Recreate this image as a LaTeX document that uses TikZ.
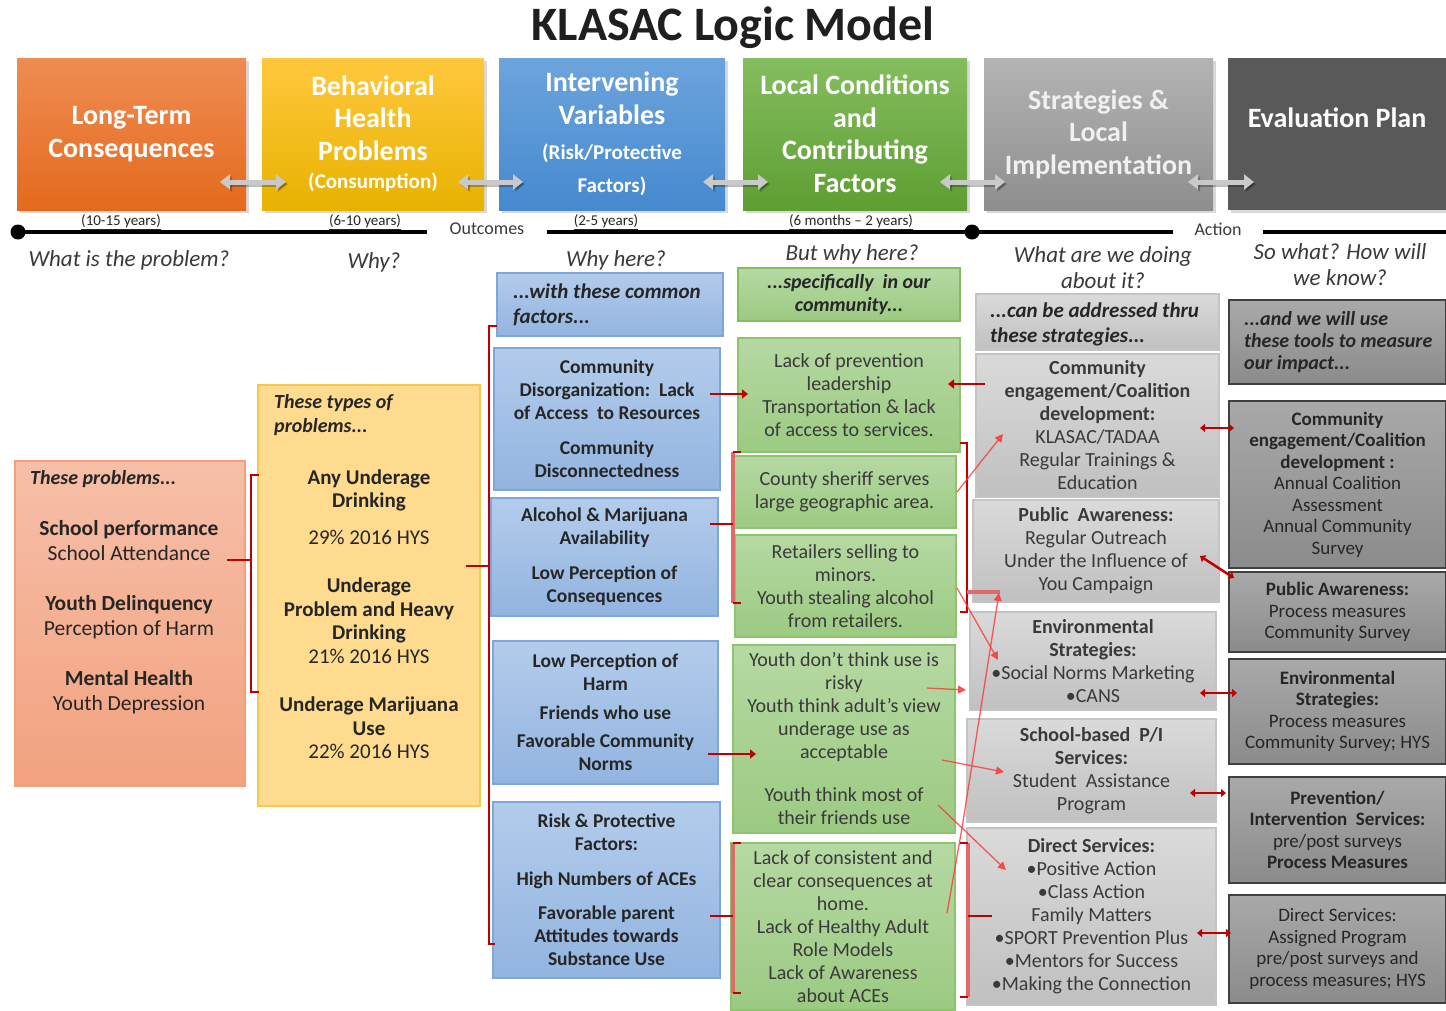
\documentclass[tikz,border=0pt]{standalone}
\usepackage{fontspec}
\setmainfont{Carlito}
\usetikzlibrary{arrows.meta,shadows,calc}
\definecolor{orA}{HTML}{F08C52}\definecolor{orB}{HTML}{E36A1D}
\definecolor{ylA}{HTML}{FFC83D}\definecolor{ylB}{HTML}{E8B200}
\definecolor{blA}{HTML}{6DA4DD}\definecolor{blB}{HTML}{4589CF}
\definecolor{grA}{HTML}{84BD5E}\definecolor{grB}{HTML}{5E9E33}
\definecolor{gyA}{HTML}{B4B4B4}\definecolor{gyB}{HTML}{8E8E8E}
\definecolor{dkA}{HTML}{595959}
\definecolor{slA}{HTML}{F6BFA8}\definecolor{slB}{HTML}{F2A27F}\definecolor{slD}{HTML}{F3A07A}
\definecolor{ycF}{HTML}{FEDB8F}\definecolor{ycD}{HTML}{FAC74A}
\definecolor{bcA}{HTML}{B3CCEB}\definecolor{bcB}{HTML}{92B4E0}\definecolor{bcD}{HTML}{7DA7DA}
\definecolor{gcA}{HTML}{B6D9A3}\definecolor{gcB}{HTML}{9BCA82}\definecolor{gcD}{HTML}{8FC46E}
\definecolor{xcA}{HTML}{DADADA}\definecolor{xcB}{HTML}{C0C0C0}\definecolor{xcD}{HTML}{C4C4C4}
\definecolor{dcA}{HTML}{A9A9A9}\definecolor{dcB}{HTML}{8B8B8B}\definecolor{dcD}{HTML}{404040}
\definecolor{txt}{HTML}{262626}\definecolor{txtg}{HTML}{3A3A3A}
\definecolor{rdk}{HTML}{C00000}\definecolor{rlt}{HTML}{E06A6A}\definecolor{rth}{HTML}{FF3535}
\definecolor{arw}{HTML}{C9C9C9}
\newcommand\mkbox[7]{\node[#2,minimum width={#5-#3},minimum height={#6-#4}] (#1) at ({(#3+#5)/2},{(#4+#6)/2}) {#7};}
\newcommand\hsmall{\fontsize{21}{24}\selectfont}
\tikzset{
 hdr/.style={draw=none,inner sep=0pt,outer sep=0pt,align=center,text=white,
   font=\bfseries\fontsize{28}{32.5}\selectfont,
   drop shadow={shadow xshift=3pt,shadow yshift=-3pt,opacity=0.3}},
 cbox/.style={inner sep=0pt,outer sep=0pt,align=center,line width=1.5pt,text=txt},
 bluebox/.style={cbox,draw=bcD,top color=bcA,bottom color=bcB,font=\bfseries\fontsize{19.5}{23}\selectfont},
 greenbox/.style={cbox,draw=gcD,top color=gcA,bottom color=gcB,text=txtg,font=\fontsize{20}{23}\selectfont},
 graybox/.style={cbox,draw=xcD,top color=xcA,bottom color=xcB,text=txtg,font=\fontsize{20}{23}\selectfont},
 darkbox/.style={cbox,draw=dcD,line width=2.5pt,top color=dcA,bottom color=dcB,text=txt,font=\fontsize{19}{21.5}\selectfont},
 hint/.style={font=\bfseries\itshape\fontsize{21}{25}\selectfont,text=txt,align=left,inner sep=0pt},
 question/.style={font=\itshape\fontsize{23}{26}\selectfont,text=txtg,align=center,inner sep=0pt},
 yrs/.style={font=\fontsize{15}{17}\selectfont,text=txt,inner sep=0pt,anchor=south},
 hdrarrow/.style={draw=arw,line width=5pt,{Triangle[width=15pt,length=10pt]}-{Triangle[width=15pt,length=10pt]}},
 hdrshadow/.style={draw=black,opacity=0.25,line width=5pt,{Triangle[width=15pt,length=10pt]}-{Triangle[width=15pt,length=10pt]}},
 rbr/.style={draw=rdk,line width=2pt},
 rbl/.style={draw=rlt,line width=3.5pt},
 rlink/.style={draw=rdk,line width=2.5pt,{Triangle[length=5pt,width=8pt]}-{Triangle[length=5pt,width=8pt]}},
 rone/.style={draw=rdk,line width=2.5pt,-{Triangle[length=6pt,width=9pt]}},
 rthin/.style={draw=rth,opacity=0.8,line width=1.3pt,-{Triangle[length=8pt,width=8pt]}},
}
\begin{document}
\begin{tikzpicture}[x=1pt,y=-1pt]
\useasboundingbox (0,0) rectangle (1446,1010);
\fill[white] (0,0) rectangle (1446,1010);
% title
\node[font=\bfseries\fontsize{48}{50}\selectfont,text=black!88,inner sep=0pt] (title) at (733,28) {KLASAC Logic Model};
% header boxes
\mkbox{h1}{hdr,top color=orA,bottom color=orB}{17}{58}{246}{210}{Long-Term\\Consequences}
\mkbox{h2}{hdr,top color=ylA,bottom color=ylB}{262}{58}{484}{210}{Behavioral\\Health\\Problems\\[-4pt]{\hsmall (Consumption)}}
\mkbox{h3}{hdr,top color=blA,bottom color=blB}{499}{58}{725}{210}{Intervening\\Variables\\[3pt]{\hsmall (Risk/Protective}\\{\hsmall Factors)}}
\mkbox{h4}{hdr,top color=grA,bottom color=grB}{743}{58}{967}{210}{Local Conditions\\and\\Contributing\\Factors}
\mkbox{h5}{hdr,top color=gyA,bottom color=gyB,text=white!94!black}{984}{58}{1213}{210}{Strategies \&\\Local\\Implementation}
\mkbox{h6}{hdr,fill=dkA}{1228}{58}{1446}{210}{Evaluation Plan\\\phantom{X}}
% header arrows
\coordinate (a1s) at (220,182);\coordinate (a1e) at (286,182);
\coordinate (a2s) at (458,182);\coordinate (a2e) at (523,182);
\coordinate (a3s) at (703,182);\coordinate (a3e) at (768,182);
\coordinate (a4s) at (940,182);\coordinate (a4e) at (1005,182);
\coordinate (a5s) at (1188,182);\coordinate (a5e) at (1254,182);
\foreach \s/\e in {a1s/a1e,a2s/a2e,a3s/a3e,a4s/a4e,a5s/a5e}{
  \draw[hdrshadow] ([shift={(2,2)}]\s) -- ([shift={(2,2)}]\e);
  \draw[hdrarrow] (\s) -- (\e);}
% timeline
\coordinate (t0) at (18,232);\coordinate (t1) at (427,232);
\coordinate (t2) at (547,232);\coordinate (t3) at (972,232);
\coordinate (t4) at (1173,232);\coordinate (t5) at (1263,232);\coordinate (t6) at (1446,232);
\draw[line width=3.5pt] (t0) -- (t1);
\draw[line width=3.5pt] (t2) -- (t4);
\draw[line width=3.5pt] (t5) -- (t6);
\fill (t0) circle (7.5pt);
\fill (t3) circle (7.5pt);
\node[font=\fontsize{18}{20}\selectfont,text=txtg,inner sep=0pt] (outc) at (487,229) {Outcomes};
\node[font=\fontsize{18}{20}\selectfont,text=txtg,inner sep=0pt] (act) at (1218,229) {Action};
\node[yrs] (y1) at (121,230) {\underline{(10-15 years)}};
\node[yrs] (y2) at (365,230) {\underline{(6-10 years)}};
\node[yrs] (y3) at (606,230) {\underline{(2-5 years)}};
\node[yrs] (y4) at (851,230) {\underline{(6 months -- 2 years)}};
% questions
\node[question] (q1) at (129,260) {What is the problem?};
\node[question] (q2) at (374,262) {Why?};
\node[question] (q3) at (616,260) {Why here?};
\node[question] (q4) at (852,254) {But why here?};
\node[question] (q5) at (1103,268) {What are we doing\\about it?};
\node[question] (q6) at (1340,265) {So what? How will\\we know?};
% left columns
\mkbox{sal}{cbox,draw=slD,top color=slA,bottom color=slB}{15}{461}{245}{786}{}
\node[hint,anchor=west,font=\bfseries\itshape\fontsize{20}{25}\selectfont] (salh) at (30,479) {These problems...};
\node[font=\fontsize{21.5}{25}\selectfont,text=txt,align=center,inner sep=0pt] (salt) at (129,617)
 {\textbf{School performance}\\School Attendance\\[25pt]\textbf{Youth Delinquency}\\Perception of Harm\\[25pt]\textbf{Mental Health}\\Youth Depression};
\mkbox{yel}{cbox,draw=ycD,line width=2.5pt,fill=ycF}{258}{385}{480}{806}{}
\node[hint,anchor=west,font=\bfseries\itshape\fontsize{20}{24}\selectfont] (yelh) at (274,415) {These types of\\problems...};
\node[font=\fontsize{21}{23.5}\selectfont,text=txt,align=center,inner sep=0pt] (yelt) at (369,614)
 {\textbf{Any Underage}\\\textbf{Drinking}\\[13pt]29\% 2016 HYS\\[25pt]\textbf{Underage}\\\textbf{Problem and Heavy}\\\textbf{Drinking}\\21\% 2016 HYS\\[25pt]\textbf{Underage Marijuana}\\\textbf{Use}\\22\% 2016 HYS};
% blue column
\mkbox{bh}{bluebox}{497}{273}{723}{336}{}
\node[hint,anchor=west] (bht) at (513,305) {...with these common\\factors...};
\mkbox{b1}{bluebox}{494}{348}{720}{490}{Community\\Disorganization:\ \ Lack\\of Access\ \ to Resources\\[12pt]Community\\Disconnectedness}
\mkbox{b2}{bluebox}{491}{498}{718}{616}{Alcohol \& Marijuana\\Availability\\[12pt]Low Perception of\\Consequences}
\mkbox{b3}{bluebox}{493}{641}{718}{784}{Low Perception of\\Harm\\[6pt]Friends who use\\[5pt]Favorable Community\\Norms}
\mkbox{b4}{bluebox}{493}{802}{720}{978}{Risk \& Protective\\Factors:\\[12pt]High Numbers of ACEs\\[11pt]Favorable parent\\Attitudes towards\\Substance Use}
% green column
\mkbox{gh}{greenbox,draw=grA,font=\bfseries\itshape\fontsize{20}{23}\selectfont,text=txt}{738}{268}{960}{321}{...specifically\ \ in our\\community...}
\mkbox{g1}{greenbox}{738}{338}{960}{452}{Lack of prevention\\leadership\\Transportation \& lack\\of access to services.}
\mkbox{g2}{greenbox}{733}{456}{956}{528}{County sheriff serves\\large geographic area.}
\mkbox{g3}{greenbox}{735}{535}{956}{637}{Retailers selling to\\minors.\\Youth stealing alcohol\\from retailers.}
\mkbox{g4}{greenbox}{733}{645}{955}{833}{Youth don't think use is\\risky\\Youth think adult's view\\underage use as\\acceptable\\[20pt]Youth think most of\\their friends use}
\mkbox{g5}{greenbox}{731}{843}{955}{1010}{Lack of consistent and\\clear consequences at\\home.\\Lack of Healthy Adult\\Role Models\\Lack of Awareness\\about ACEs}
% gray column
\mkbox{xh}{graybox}{976}{294}{1219}{350}{}
\node[hint,anchor=west] (xht) at (990,324) {...can be addressed thru\\these strategies...};
\mkbox{x1}{graybox}{976}{354}{1219}{497}{\textbf{Community}\\\textbf{engagement/Coalition}\\\textbf{development:}\\KLASAC/TADAA\\Regular Trainings \&\\Education}
\mkbox{x2}{graybox}{973}{500}{1219}{602}{\textbf{Public\ \ Awareness:}\\Regular Outreach\\Under the Influence of\\You Campaign}
\mkbox{x3}{graybox}{970}{612}{1216}{710}{\textbf{Environmental}\\\textbf{Strategies:}\\•Social Norms Marketing\\•CANS}
\mkbox{x4}{graybox}{967}{719}{1216}{822}{\textbf{School-based\ \ P/I}\\\textbf{Services:}\\Student\ \ Assistance\\Program}
\mkbox{x5}{graybox}{967}{828}{1216}{1005}{\textbf{Direct Services:}\\•Positive Action\\•Class Action\\Family Matters\\•SPORT Prevention Plus\\•Mentors for Success\\•Making the Connection}
% dark column
\mkbox{dh}{darkbox}{1229}{300}{1446}{384}{}
\node[hint,anchor=west,font=\bfseries\itshape\fontsize{20}{22}\selectfont] (dht) at (1244,342) {...and we will use\\these tools to measure\\our impact...};
\mkbox{d1}{darkbox}{1229}{401}{1446}{568}{\textbf{Community}\\\textbf{engagement/Coalition}\\\textbf{development :}\\Annual Coalition\\Assessment\\Annual Community\\Survey}
\mkbox{d2}{darkbox}{1229}{572}{1446}{652}{\textbf{Public Awareness:}\\Process measures\\Community Survey}
\mkbox{d3}{darkbox}{1229}{659}{1446}{764}{\textbf{Environmental}\\\textbf{Strategies:}\\Process measures\\Community Survey; HYS}
\mkbox{d4}{darkbox}{1229}{777}{1446}{883}{\textbf{Prevention/}\\\textbf{Intervention\ \ Services:}\\pre/post surveys\\\textbf{Process Measures}}
\mkbox{d5}{darkbox}{1229}{895}{1446}{1003}{Direct Services:\\Assigned Program\\pre/post surveys and\\process measures; HYS}
% ---- red connectors ----
% bracket salmon -> yellow
\coordinate (L1t) at (251,475);\coordinate (L1b) at (251,692);\coordinate (L1m) at (251,560);
\draw[rbr] ([xshift=-18]sal.east |- L1m) -- (L1m);
\draw[rbr] ([xshift=8]L1t) -- (L1t) -- (L1b) -- ([xshift=8]L1b);
% bracket yellow -> blue
\coordinate (L2t) at (489,326);\coordinate (L2b) at (489,944);\coordinate (L2m) at (489,566);
\draw[rbr] ([xshift=-14]yel.east |- L2m) -- (L2m);
\draw[rbr] ([xshift=8]L2t) -- (L2t) -- (L2b) -- ([xshift=6]L2b);
% bracket blue2 -> green2/3
\coordinate (L3t) at (733,452);\coordinate (L3b) at (733,603);\coordinate (L3m) at (733,524);
\draw[rbl] (L3t) -- (L3b);
\draw[rbr] ([xshift=-8]b2.east |- L3m) -- (L3m);
\draw[rbr] (L3t) -- ([xshift=8]L3t);
\draw[rbr] (L3b) -- ([xshift=8]L3b);
% bracket blue4 -> green5
\coordinate (L4t) at (733,843);\coordinate (L4b) at (733,993);\coordinate (L4m) at (733,916);
\draw[rbl] (L4t) -- (L4b);
\draw[rbr] ([xshift=-10]b4.east |- L4m) -- (L4m);
\draw[rbr] (L4t) -- ([xshift=8]L4t);
\draw[rbr] (L4b) -- ([xshift=8]L4b);
% bracket green1-3 -> gray2
\coordinate (R1t) at (967,443);\coordinate (R1b) at (967,612);\coordinate (R1m) at (967,592);
\draw[rbr] ([xshift=-7]R1t) -- (R1t) -- (R1b) -- ([xshift=-7]R1b);
\draw[rbl] (R1m) -- ([xshift=27]x2.west |- R1m);
% bracket green5 -> gray5
\coordinate (R2t) at (968,843);\coordinate (R2b) at (968,997);\coordinate (R2m) at (968,916);
\draw[rbl] (R2t) -- (R2b);
\draw[rbr] ([xshift=-8]R2t) -- (R2t);
\draw[rbr] ([xshift=-8]R2b) -- (R2b);
\draw[rbr] (R2m) -- ([xshift=24]R2m);
% direct links
\coordinate (c1a) at (710,394);\coordinate (c1b) at (748,394);
\draw[rone] (c1a) -- (c1b);
\coordinate (c2a) at (985,384);\coordinate (c2b) at (948,384);
\draw[rone,line width=2pt] (c2a) -- (c2b);
\coordinate (c3a) at (708,754);\coordinate (c3b) at (756,754);
\draw[rone] (c3a) -- (c3b);
\coordinate (e1a) at (1200,428);\coordinate (e1b) at (1234,428);
\draw[rlink] (e1a) -- (e1b);
\coordinate (e2a) at (1200,556);\coordinate (e2b) at (1234,578);
\draw[rlink] (e2a) -- (e2b);
\coordinate (e3a) at (1200,693);\coordinate (e3b) at (1237,693);
\draw[rlink] (e3a) -- (e3b);
\coordinate (e4a) at (1190,793);\coordinate (e4b) at (1226,793);
\draw[rlink] (e4a) -- (e4b);
\coordinate (e5a) at (1197,933);\coordinate (e5b) at (1231,933);
\draw[rlink] (e5a) -- (e5b);
% thin diagonal links
\coordinate (d1s) at (957,492);\coordinate (d1e) at (1003,434);
\draw[rthin] (d1s) -- (d1e);
\coordinate (d2s) at (957,588);\coordinate (d2e) at (998,660);
\draw[rthin] (d2s) -- (d2e);
\coordinate (d3s) at (947,913);\coordinate (d3m) at (962,828);\coordinate (d3e) at (999,593);
\draw[rthin] (d3s) -- (d3m) -- (d3e);
\coordinate (d4s) at (927,688);\coordinate (d4e) at (966,690);
\draw[rthin] (d4s) -- (d4e);
\coordinate (d5s) at (942,760);\coordinate (d5e) at (1004,772);
\draw[rthin] (d5s) -- (d5e);
\coordinate (d6s) at (938,805);\coordinate (d6e) at (1006,870);
\draw[rthin] (d6s) -- (d6e);
\end{tikzpicture}
\end{document}
